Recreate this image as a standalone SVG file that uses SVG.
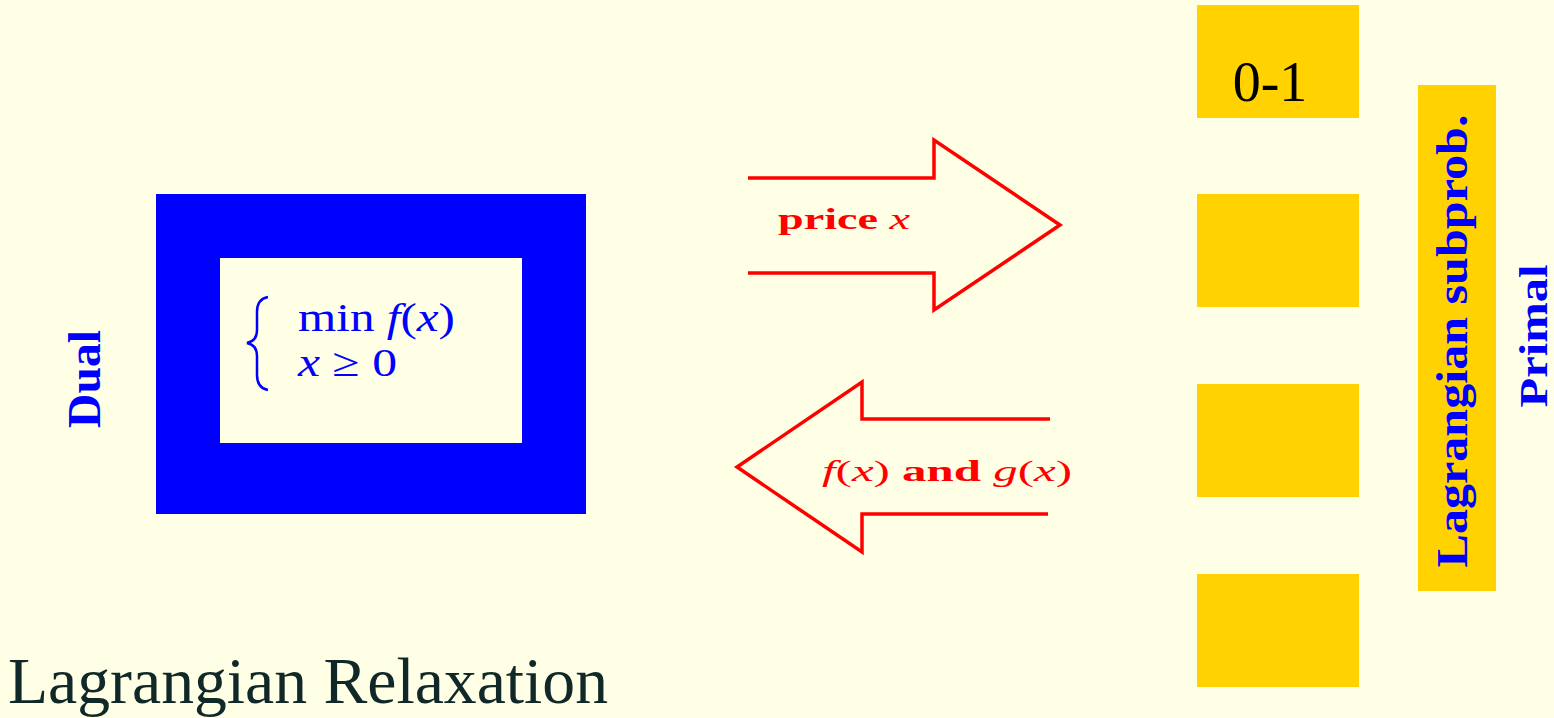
<svg xmlns="http://www.w3.org/2000/svg" width="1554" height="718" viewBox="0 0 1554 718">
<style>
.bg{fill:#FFFFE6}
.arrow{fill:none;stroke:#FF0000;stroke-width:3.5;stroke-linejoin:miter}
.lbl{font-family:"Liberation Serif",serif;font-weight:bold;fill:#FF0000;font-size:29px}
.it{font-style:italic;font-weight:normal}
.gold{fill:#FFD200}
.vt{font-family:"Liberation Serif",serif;font-weight:bold;fill:#0000FF;text-anchor:middle}
.math{font-family:"Liberation Serif",serif;fill:#0000FF;font-size:40px}
</style>
<rect class="bg" x="0" y="0" width="1554" height="718"/>
<g id="dual-box">
<rect x="156" y="194" width="430" height="320" fill="#0000FF"/>
<rect class="bg" x="220" y="258" width="302" height="185"/>
<path d="M268,297 Q257,299 257,312 L257,330 Q257,341 247,343 Q257,345 257,356 L257,375 Q257,388 268,390" fill="none" stroke="#0000FF" stroke-width="2.5"/>
<text class="math" x="298" y="331" textLength="157" lengthAdjust="spacingAndGlyphs">min <tspan font-style="italic">f</tspan>(<tspan font-style="italic">x</tspan>)</text>
<text class="math" x="298" y="376" textLength="99" lengthAdjust="spacingAndGlyphs"><tspan font-style="italic">x</tspan> ≥ 0</text>
</g>
<g id="dual-label">
<text class="vt" font-size="46" textLength="98" lengthAdjust="spacingAndGlyphs" transform="translate(100,379) rotate(-90)">Dual</text>
</g>
<g id="connectors">
<path class="arrow" d="M748,178 L934,178 L934,140 L1060,225 L934,310 L934,273 L748,273"/>
<text class="lbl" x="778" y="229" textLength="132" lengthAdjust="spacingAndGlyphs">price <tspan class="it">x</tspan></text>
<path class="arrow" d="M1050,419 L862,419 L862,382 L737,467 L862,552 L862,514 L1048,514"/>
<text class="lbl" x="822" y="481" textLength="250" lengthAdjust="spacingAndGlyphs"><tspan class="it">f</tspan><tspan font-weight="normal">(</tspan><tspan class="it">x</tspan><tspan font-weight="normal">)</tspan> and <tspan class="it">g</tspan><tspan font-weight="normal">(</tspan><tspan class="it">x</tspan><tspan font-weight="normal">)</tspan></text>
</g>
<g id="box1">
<rect class="gold" x="1197" y="5" width="162" height="113"/>
<text x="1270" y="101" font-family="Liberation Serif,serif" font-size="56" text-anchor="middle" fill="#000">0-1</text>
</g>
<g id="box2"><rect class="gold" x="1197" y="194" width="162" height="113"/></g>
<g id="box3"><rect class="gold" x="1197" y="384" width="162" height="113"/></g>
<g id="box4"><rect class="gold" x="1197" y="574" width="162" height="113"/></g>
<g id="subprob">
<rect class="gold" x="1418" y="85" width="78" height="506"/>
<text class="vt" font-size="44" textLength="453" lengthAdjust="spacingAndGlyphs" transform="translate(1467,341) rotate(-90)">Lagrangian subprob.</text>
</g>
<g id="primal-label">
<text class="vt" font-size="40" textLength="143" lengthAdjust="spacingAndGlyphs" transform="translate(1547,336) rotate(-90)">Primal</text>
</g>
<text x="8" y="703" font-family="Liberation Serif,serif" font-size="65" fill="#102828" textLength="600" lengthAdjust="spacingAndGlyphs">Lagrangian Relaxation</text>
</svg>
